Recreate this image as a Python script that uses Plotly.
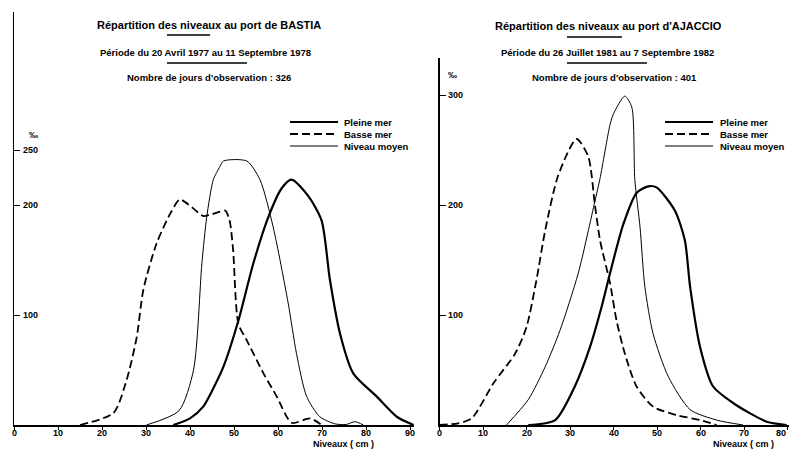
import plotly.graph_objects as go

W, H = 789, 456

# ---------------- Data: BASTIA (left) ----------------
bastia_pleine_x = [36.2, 40, 43, 45, 47.6, 51, 54.4, 57.8, 60.8, 63.1, 66.9, 69.9, 71.8, 74.1, 77.1, 82.4, 87, 90.8]
bastia_pleine_y = [0, 6, 16.7, 31, 53, 95, 147, 189, 215, 223, 208, 186, 132, 83, 47, 26, 7.5, 0]

bastia_basse_x = [15, 22.6, 25.6, 27.9, 29.4, 32.4, 35.5, 37.7, 40.4, 43, 44.5, 46.8, 48, 49, 49.8, 51, 52.9, 56.7, 59.7, 63.1, 67.3, 69.9]
bastia_basse_y = [0, 11, 41, 80, 123, 165, 192, 205, 198, 190, 191, 194, 195, 186, 159, 92, 77, 47, 26, 2, 6, 0]

bastia_moyen_x = [30.1, 37.5, 40.8, 42.7, 43.8, 45.3, 46.8, 47.6, 52.9, 55.9, 58.9, 62.3, 64.2, 66.5, 69.5, 73, 75.5, 77.5, 79.4]
bastia_moyen_y = [0, 13, 50, 147, 189, 223, 235, 240, 240, 223, 180, 111, 65, 26, 7.5, 1, 0.5, 3, 0]

# ---------------- Data: AJACCIO (right) ----------------
ajaccio_pleine_x = [20.4, 26.6, 31.1, 34.6, 37.3, 39.2, 42.3, 45.3, 48.0, 49.9, 54.1, 56.4, 57.6, 59.9, 62.9, 67.5, 71.4, 75.2, 79.8]
ajaccio_pleine_y = [0, 4.5, 35, 71, 108, 138, 183, 211, 217, 216, 195, 168, 126, 71, 35, 20, 10.6, 3, 0]

ajaccio_basse_x = [0, 4.3, 7.4, 12.4, 17.4, 20, 22.3, 24.3, 27.3, 31.5, 34.2, 35.7, 36.9, 39.2, 40.7, 42.6, 45.3, 49.1, 54.5, 59.9, 63.7]
ajaccio_basse_y = [0, 1.5, 6, 38, 65, 89, 132, 177, 227, 260, 244, 201, 168, 129, 95, 65, 35, 16.7, 9, 4.5, 0]

ajaccio_moyen_x = [15.4, 20.4, 24.3, 27.7, 31.9, 35.7, 36.9, 39.2, 40.0, 42.6, 44.2, 44.9, 46.1, 47.2, 49.1, 52.6, 57.6, 63.7, 69.8]
ajaccio_moyen_y = [0, 23, 53, 86, 138, 203, 224, 273, 283, 299, 289, 223, 180, 126, 83, 44, 14, 4.5, 0]

left_xticks = [0, 10, 20, 30, 40, 50, 60, 70, 80, 90]
left_yticks = [100, 200, 250]
right_xticks = [0, 10, 20, 30, 40, 50, 60, 70, 80]
right_yticks = [100, 200, 300]

series_names = ["Pleine mer", "Basse mer", "Niveau moyen"]

left_title = ["Répartition des niveaux au port de BASTIA",
              "Période du 20 Avril 1977 au 11 Septembre 1978",
              "Nombre de jours d'observation : 326"]
right_title = ["Répartition des niveaux au port d'AJACCIO",
               "Période du 26 Juillet 1981 au 7 Septembre 1982",
               "Nombre de jours d'observation : 401"]

FONT = "Liberation Sans"

def px_x(p):
    return p / W

def px_y(p):
    return 1 - p / H

styles = {
    "Pleine mer": dict(color="black", width=2.2),
    "Basse mer": dict(color="black", width=1.8, dash="8px,4px"),
    "Niveau moyen": dict(color="black", width=1.0),
}

fig = go.Figure()

def add_series(x, y, name, xa, ya):
    fig.add_trace(go.Scatter(
        x=x, y=y, mode="lines", name=name, showlegend=False,
        line=dict(shape="spline", smoothing=0.7, **styles[name]),
        xaxis=xa, yaxis=ya, cliponaxis=True,
    ))

add_series(bastia_pleine_x, bastia_pleine_y, "Pleine mer", "x", "y")
add_series(bastia_basse_x, bastia_basse_y, "Basse mer", "x", "y")
add_series(bastia_moyen_x, bastia_moyen_y, "Niveau moyen", "x", "y")
add_series(ajaccio_pleine_x, ajaccio_pleine_y, "Pleine mer", "x2", "y2")
add_series(ajaccio_basse_x, ajaccio_basse_y, "Basse mer", "x2", "y2")
add_series(ajaccio_moyen_x, ajaccio_moyen_y, "Niveau moyen", "x2", "y2")

axis_common = dict(showgrid=False, zeroline=False, showline=True, linecolor="black",
                   linewidth=1.5, tickcolor="black", showticklabels=False, fixedrange=True)

y0 = 425  # baseline pixel
fig.update_layout(
    width=W, height=H,
    margin=dict(l=0, r=0, t=0, b=0),
    paper_bgcolor="white", plot_bgcolor="white",
    showlegend=False,
    xaxis=dict(domain=[px_x(14), px_x(14 + 4.4 * 91)], range=[0, 91],
               tickvals=left_xticks, ticks="outside", ticklen=3, anchor="y", **axis_common),
    yaxis=dict(domain=[px_y(y0), px_y(12)], range=[0, (y0 - 12) / 1.1],
               tickvals=left_yticks, ticks="inside", ticklen=6, anchor="x", **axis_common),
    xaxis2=dict(domain=[px_x(439.5), 1.0], range=[0, (789 - 439.5) / 4.35],
                tickvals=right_xticks, ticks="outside", ticklen=3, anchor="y2", **axis_common),
    yaxis2=dict(domain=[px_y(y0), px_y(58)], range=[0, (y0 - 58) / 1.1],
                tickvals=right_yticks, ticks="inside", ticklen=6, anchor="x2", **axis_common),
)

annotations = []
shapes = []

def text(xp, yp, s, size=10, xanchor="center"):
    annotations.append(dict(x=px_x(xp), y=px_y(yp), xref="paper", yref="paper",
                            text=s, showarrow=False, xanchor=xanchor, yanchor="middle",
                            font=dict(family=FONT, size=size, color="black", weight="bold")))

def data_text(xv, yv, s, xref, yref, size=9, xanchor="left"):
    annotations.append(dict(x=xv, y=yv, xref=xref, yref=yref, text=s, showarrow=False,
                            xanchor=xanchor, yanchor="middle",
                            font=dict(family=FONT, size=size, color="black", weight="bold")))

def hline(x0, x1, yp, width=1.3, dash=None):
    line = dict(color="black", width=width)
    if dash:
        line["dash"] = dash
    shapes.append(dict(type="line", xref="paper", yref="paper",
                       x0=px_x(x0), x1=px_x(x1), y0=px_y(yp), y1=px_y(yp), line=line))

# y tick labels (drawn inside the plot, next to the tick marks)
for v in left_yticks:
    data_text(1.6, v, str(v), "x", "y")
for v in right_yticks:
    data_text(1.6, v, str(v), "x2", "y2")

# x tick labels, close under the axis
for v in left_xticks:
    annotations.append(dict(x=v, y=px_y(433), xref="x", yref="paper", text=str(v),
                            showarrow=False, xanchor="center", yanchor="middle",
                            font=dict(family=FONT, size=9, color="black", weight="bold")))
for v in right_xticks:
    last = v == right_xticks[-1]
    annotations.append(dict(x=v, y=px_y(433), xref="x2", yref="paper", text=str(v),
                            showarrow=False, xanchor="right" if last else "center",
                            xshift=0 if last else 0, yanchor="middle",
                            font=dict(family=FONT, size=9, color="black", weight="bold")))

# Titles
text(209, 25, left_title[0], 11)
hline(167, 210, 35)
text(205, 52, left_title[1], 9.5)
hline(167, 247, 63)
text(209, 77, left_title[2], 9.5)

text(608, 26, right_title[0], 11)
hline(567, 622, 37)
text(607, 52, right_title[1], 9.5)
hline(567, 647, 63)
text(614, 77, right_title[2], 9.5)

# permille labels
text(33, 135, "‰", 9)
text(452, 75, "‰", 9)

# axis titles
text(343, 444, "Niveaux ( cm )", 9)
text(743, 444, "Niveaux ( cm )", 9)

# Legends (drawn manually)
leg_rows = [122, 134, 146]
for (lx0, lx1, tx) in [(290, 338, 342), (665, 713, 718)]:
    for name, yr in zip(series_names, leg_rows):
        st = styles[name]
        hline(lx0, lx1, yr, width=st["width"], dash=st.get("dash"))
        text(tx, yr, name, 9.5, xanchor="left")

fig.update_layout(annotations=annotations, shapes=shapes)

fig.write_html("out.html",
               config={"displayModeBar": False, "staticPlot": True},
               post_script="document.body.style.margin='0';document.body.style.overflow='hidden';")
